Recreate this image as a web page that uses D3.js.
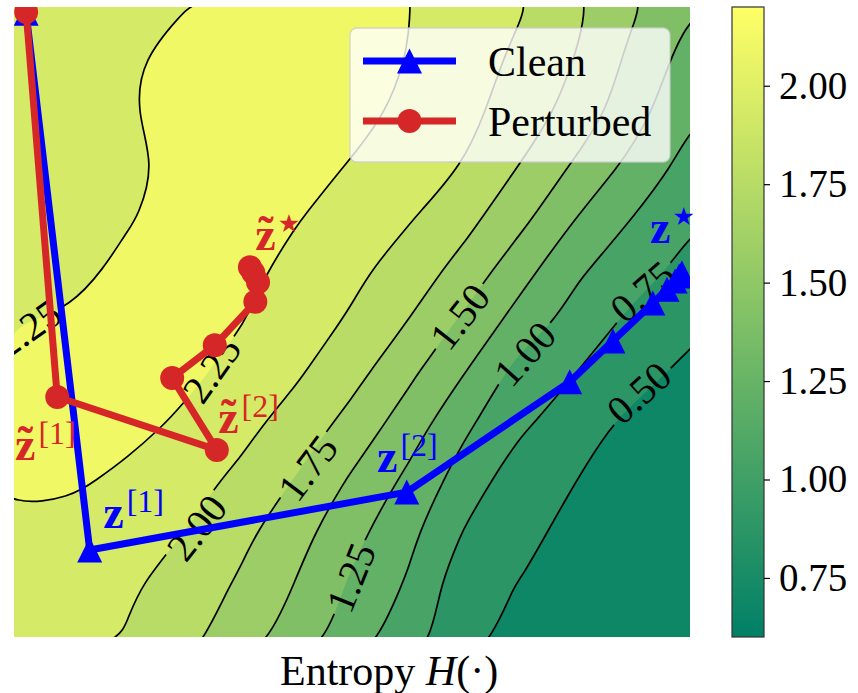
<!DOCTYPE html>
<html>
<head>
<meta charset="utf-8">
<script src="https://cdn.jsdelivr.net/npm/d3@7/dist/d3.min.js"></script>
<style>
  html,body{margin:0;padding:0;background:#fff;}
  svg{display:block;}
</style>
</head>
<body>
<svg id="chart" width="858" height="693"></svg>
<script>
// ---------------- DATA ----------------
// Field values on a 13 x 13 grid (row 0 = top of the plot, column 0 = left)
const gridCols = 13;
const gridRows = 13;
const fieldValues = [
  2.17, 2.19, 2.22, 2.245, 2.29, 2.31, 2.30, 2.255, 2.136, 2.015, 1.796, 1.529, 1.273,
  2.16, 2.19, 2.235, 2.29, 2.32, 2.34, 2.33, 2.245, 2.104, 1.951, 1.734, 1.435, 1.15,
  2.15, 2.18, 2.24, 2.30, 2.33, 2.35, 2.33, 2.199, 2.063, 1.89, 1.653, 1.349, 1.04,
  2.14, 2.17, 2.21, 2.29, 2.33, 2.35, 2.236, 2.117, 1.996, 1.742, 1.462, 1.181, 0.92,
  2.13, 2.17, 2.23, 2.33, 2.35, 2.266, 2.145, 2.023, 1.833, 1.569, 1.244, 0.999, 0.79,
  2.12, 2.18, 2.30, 2.33, 2.317, 2.187, 2.059, 1.889, 1.660, 1.342, 1.038, 0.85, 0.68,
  2.24, 2.28, 2.32, 2.31, 2.262, 2.120, 1.968, 1.744, 1.449, 1.140, 0.897, 0.69, 0.572,
  2.30, 2.32, 2.32, 2.31, 2.170, 2.028, 1.828, 1.548, 1.244, 0.895, 0.744, 0.586, 0.43,
  2.27, 2.30, 2.33, 2.202, 2.067, 1.894, 1.654, 1.367, 1.039, 0.781, 0.599, 0.43, 0.38,
  2.27, 2.30, 2.194, 2.086, 1.957, 1.739, 1.470, 1.199, 0.882, 0.608, 0.499, 0.41, 0.36,
  2.23, 2.156, 2.08, 2.006, 1.819, 1.591, 1.326, 1.064, 0.736, 0.575, 0.415, 0.37, 0.34,
  2.21, 2.12, 2.035, 1.896, 1.722, 1.492, 1.216, 0.972, 0.58, 0.49, 0.41, 0.36, 0.33,
  2.19, 2.09, 1.987, 1.827, 1.632, 1.394, 1.135, 0.859, 0.60, 0.40, 0.36, 0.33, 0.31
];
const contourLevels = [0.5, 0.75, 1.0, 1.25, 1.5, 1.75, 2.0, 2.25];
const colorLevelRange = [0.25, 2.5];      // level extent used to colour the bands
const colorbarRange = [0.6, 2.2];
const colorbarTicks = [0.75, 1.0, 1.25, 1.5, 1.75, 2.0];

// inline contour labels (data coords, 0..1)
const contourLabelLevels = [2.25, 2.25, 2.00, 1.75, 1.50, 1.25, 1.00, 0.75, 0.50];
const contourLabelX = [0.021, 0.293, 0.271, 0.435, 0.660, 0.499, 0.756, 0.930, 0.925];
const contourLabelY = [0.489, 0.424, 0.173, 0.268, 0.508, 0.094, 0.449, 0.548, 0.387];
const contourLabelAngle = [-35, -55, -52, -53, -52, -68, -48, -41, -42];

// trajectories (data coords, 0..1)
const seriesNames = ["Clean", "Perturbed"];
const cleanX = [0.018, 0.112, 0.581, 0.822, 0.886, 0.945, 0.966, 0.978, 0.984, 0.988];
const cleanY = [0.990, 0.138, 0.230, 0.405, 0.470, 0.530, 0.552, 0.565, 0.573, 0.578];
const perturbedX = [0.018, 0.064, 0.300, 0.234, 0.297, 0.357, 0.361, 0.354, 0.349];
const perturbedY = [0.992, 0.381, 0.297, 0.411, 0.463, 0.532, 0.563, 0.578, 0.587];

// point annotations
const annotSeries = [0, 0, 0, 1, 1, 1];
const annotSup = ["[1]", "[2]", "\u2605", "\u2605", "[1]", "[2]"];
const annotX = [0.132, 0.537, 0.941, 0.357, 0.0015, 0.302];
const annotY = [0.173, 0.262, 0.625, 0.614, 0.281, 0.324];

// ---------------- DRAW ----------------
const svg = d3.select('#chart');
const serif = '"Liberation Serif","Times New Roman",serif';
const plot = {left: 14, right: 690, top: 7, bottom: 637};
const x = d3.scaleLinear().domain([0, 1]).range([plot.left, plot.right]);
const y = d3.scaleLinear().domain([0, 1]).range([plot.bottom, plot.top]);
const gx = c => x((c - 0.5) / (gridCols - 1));
const gy = r => y(1 - (r - 0.5) / (gridRows - 1));

const summer = t => d3.rgb(255 * t, 255 * (0.5 + 0.5 * t), 102);
const bandColor = mid => summer((mid - colorLevelRange[0]) / (colorLevelRange[1] - colorLevelRange[0]));
const seriesColor = ["#0000ff", "#d62728"];

const defs = svg.append('defs');
defs.append('clipPath').attr('id', 'plotClip').append('rect')
  .attr('x', plot.left).attr('y', plot.top)
  .attr('width', plot.right - plot.left).attr('height', plot.bottom - plot.top);

const contours = d3.contours().size([gridCols, gridRows]).thresholds(contourLevels)(fieldValues);
const ringLine = d3.line().curve(d3.curveBasisClosed);
function geomPath(geom) {
  let s = '';
  geom.coordinates.forEach(poly => poly.forEach(ring => {
    const raw = ring.slice(0, -1).map(p => [gx(p[0]), gy(p[1])]);
    const pts = [];
    raw.forEach(p => {
      const q = pts[pts.length - 1];
      if (!q || Math.hypot(p[0] - q[0], p[1] - q[1]) > 5) pts.push(p);
    });
    if (pts.length > 2) s += ringLine(pts);
  }));
  return s;
}

// filled bands
const fillG = svg.append('g').attr('clip-path', 'url(#plotClip)');
fillG.append('rect').attr('x', plot.left).attr('y', plot.top)
  .attr('width', plot.right - plot.left).attr('height', plot.bottom - plot.top)
  .attr('fill', bandColor(contourLevels[0] - 0.125));
contours.forEach((c, i) => {
  fillG.append('path').attr('d', geomPath(c)).attr('fill-rule', 'evenodd')
    .attr('fill', bandColor(contourLevels[i] + 0.125));
});

// contour labels (measure first for the gaps)
const labelFont = 40;
const labelG = svg.append('g').attr('clip-path', 'url(#plotClip)');
const mask = defs.append('mask').attr('id', 'lineMask').attr('maskUnits', 'userSpaceOnUse')
  .attr('x', 0).attr('y', 0).attr('width', 858).attr('height', 693);
mask.append('rect').attr('x', 0).attr('y', 0).attr('width', 858).attr('height', 693).attr('fill', 'white');
contourLabelLevels.forEach((lv, i) => {
  const cx = x(contourLabelX[i]), cy = y(contourLabelY[i]);
  const t = labelG.append('text')
    .attr('transform', `translate(${cx},${cy}) rotate(${contourLabelAngle[i]})`)
    .attr('text-anchor', 'middle').attr('dy', '0.33em')
    .style('font-family', serif).style('font-size', labelFont + 'px')
    .attr('fill', '#000').text(d3.format('.2f')(lv));
  const w = t.node().getComputedTextLength();
  mask.append('rect').attr('x', -w / 2 - 5).attr('y', -labelFont * 0.4)
    .attr('width', w + 10).attr('height', labelFont * 0.8)
    .attr('transform', `translate(${cx},${cy}) rotate(${contourLabelAngle[i]})`)
    .attr('fill', 'black');
});

// contour lines
const lineG = svg.append('g').attr('clip-path', 'url(#plotClip)')
  .append('g').attr('mask', 'url(#lineMask)');
contours.forEach(c => {
  lineG.append('path').attr('d', geomPath(c)).attr('fill', 'none')
    .attr('stroke', '#000').attr('stroke-width', 1.7);
});
labelG.raise();

// trajectories
const trajG = svg.append('g').attr('clip-path', 'url(#plotClip)');
const lineGen = d3.line();
const triSize = 25;
const triPath = `M0,${-triSize / 2}L${triSize / 2},${triSize / 2}L${-triSize / 2},${triSize / 2}Z`;
function drawSeries(xs, ys, color, marker) {
  const pts = xs.map((v, i) => [x(v), y(ys[i])]);
  trajG.append('path').attr('d', lineGen(pts)).attr('fill', 'none')
    .attr('stroke', color).attr('stroke-width', 7).attr('stroke-linejoin', 'round');
  pts.forEach(p => {
    if (marker === 'tri') {
      trajG.append('path').attr('d', triPath).attr('transform', `translate(${p[0]},${p[1]})`).attr('fill', color);
    } else {
      trajG.append('circle').attr('cx', p[0]).attr('cy', p[1]).attr('r', 12).attr('fill', color);
    }
  });
}
drawSeries(cleanX, cleanY, seriesColor[0], 'tri');
drawSeries(perturbedX, perturbedY, seriesColor[1], 'circle');

// point annotations
const annG = svg.append('g');
annotX.forEach((ax, i) => {
  const s = annotSeries[i];
  const px = x(ax), py = y(annotY[i]);
  const t = annG.append('text').attr('x', px).attr('y', py)
    .attr('fill', seriesColor[s]).style('font-family', serif);
  t.append('tspan').text('z').style('font-weight', 'bold').style('font-size', '46px');
  if (annotSup[i] === '\u2605') {
    t.append('tspan').text(annotSup[i]).attr('dx', 2).attr('dy', -18)
      .style('font-family', '"DejaVu Sans",sans-serif').style('font-size', '25px');
  } else {
    t.append('tspan').text(annotSup[i]).attr('dx', 3).attr('dy', -16).style('font-size', '32px');
  }
  if (s === 1) {
    annG.append('text').attr('x', px + 10.5).attr('y', py - 1).attr('text-anchor', 'middle')
      .attr('fill', seriesColor[s]).style('font-family', serif)
      .style('font-weight', 'bold').style('font-size', '46px').text('\u02DC');
  }
});

// legend
const leg = svg.append('g');
leg.append('rect').attr('x', 350).attr('y', 28).attr('width', 320).attr('height', 134)
  .attr('rx', 7).attr('fill', 'rgba(255,255,255,0.8)').attr('stroke', 'rgba(204,204,204,0.8)').attr('stroke-width', 1.3);
seriesNames.forEach((name, i) => {
  const ly = 61 + i * 60;
  leg.append('line').attr('x1', 363).attr('x2', 456).attr('y1', ly).attr('y2', ly)
    .attr('stroke', seriesColor[i]).attr('stroke-width', 7);
  if (i === 0) leg.append('path').attr('d', triPath).attr('transform', `translate(409.5,${ly})`).attr('fill', seriesColor[i]);
  else leg.append('circle').attr('cx', 409.5).attr('cy', ly).attr('r', 12).attr('fill', seriesColor[i]);
  leg.append('text').attr('x', 488).attr('y', ly + 15).style('font-family', serif)
    .style('font-size', '42px').attr('fill', '#000').text(name);
});

// x label
const xl = svg.append('text').attr('x', 280).attr('y', 685).style('font-family', serif)
  .style('font-size', '42px').attr('fill', '#000');
xl.append('tspan').text('Entropy ');
xl.append('tspan').text('H').style('font-style', 'italic');
xl.append('tspan').text('(\u00B7)');

// colorbar
const cb = {x: 732, w: 32, top: 7, bottom: 637};
const cbScale = d3.scaleLinear().domain(colorbarRange).range([cb.bottom, cb.top]);
const grad = defs.append('linearGradient').attr('id', 'cbGrad')
  .attr('x1', 0).attr('y1', 1).attr('x2', 0).attr('y2', 0);
grad.append('stop').attr('offset', '0%').attr('stop-color', summer(0));
grad.append('stop').attr('offset', '100%').attr('stop-color', summer(1));
svg.append('rect').attr('x', cb.x).attr('y', cb.top).attr('width', cb.w).attr('height', cb.bottom - cb.top)
  .attr('fill', 'url(#cbGrad)').attr('stroke', '#333').attr('stroke-width', 1.2);
const cbAxis = svg.append('g').attr('transform', `translate(${cb.x + cb.w},0)`)
  .call(d3.axisRight(cbScale).tickValues(colorbarTicks).tickFormat(d3.format('.2f')).tickSize(6).tickPadding(9));
cbAxis.select('.domain').remove();
cbAxis.selectAll('line').attr('stroke', '#000').attr('stroke-width', 1.2);
cbAxis.selectAll('text').style('font-family', serif).style('font-size', '39px').attr('fill', '#000');
</script>
</body>
</html>
